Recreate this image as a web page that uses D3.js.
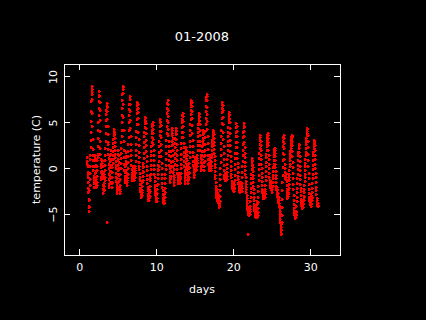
<!DOCTYPE html>
<html><head><meta charset="utf-8">
<script src="https://cdn.jsdelivr.net/npm/d3@7"></script>
<style>html,body{margin:0;padding:0;background:#000;}svg{display:block}</style>
</head><body>
<svg id="chart" width="426" height="320"></svg>
<script>
const title = "01-2008";
const xLabel = "days";
const yLabel = "temperature (C)";
const xTicks = [0, 10, 20, 30];
const xTickLabels = ["0", "10", "20", "30"];
const yTicks = [-5, 0, 5, 10];
const yTickLabels = ["\u22125", "0", "5", "10"];
const firstDay = 1;          // day value of the first sample
const samplesPerDay = 48;    // half-hourly readings
// temperature readings (C), one row of 12 = 6 hours, 4 rows per day, Jan 1 .. Jan 30
const temperature = [
 // Jan 1
 0.8, 0.5, 1.2, 0.3, -0.4, -1.0, -0.6, -1.5, -2.1, -2.6, -3.4, -4.1,
 -4.7, -4.2, -3.3, -2.4, -1.8, -1.2, -0.5, 0.2, 1.0, 1.4, 2.3, 3.1,
 4.0, 5.1, 6.2, 7.3, 8.1, 8.6, 9.0, 8.3, 7.5, 6.0, 4.6, 3.2,
 2.1, 1.5, 0.9, 0.3, -0.2, -0.8, -1.3, -1.0, -1.6, -2.0, -1.4, -0.9,
 // Jan 2
 -0.5, 0.2, 0.9, 1.5, 1.1, 0.4, -0.3, -0.9, -1.4, -2.0, -1.7, -1.2,
 -1.8, -1.5, -0.8, -0.2, 0.3, 0.9, 1.2, 1.6, 2.4, 3.3, 4.2, 5.0,
 5.8, 6.6, 7.3, 7.9, 8.4, 8.0, 7.2, 6.4, 5.3, 4.1, 3.0, 2.2,
 1.6, 1.0, 0.5, 0.1, -0.4, -0.9, -1.2, -0.7, -0.3, 0.4, 0.8, 0.6,
 // Jan 3
 0.9, 0.3, -0.4, -1.1, -1.8, -2.3, -2.7, -2.4, -1.9, -2.2, -1.6, -1.0,
 -0.6, -1.3, -0.9, -0.2, 0.4, 0.9, 1.5, 2.2, 3.0, 3.8, 4.6, 5.3,
 5.9, 6.4, 6.8, 7.1, 6.7, 6.2, -5.8, 5.4, 4.6, 3.7, 2.9, 2.6,
 2.1, 1.6, 1.1, 0.5, 0.0, -0.6, -1.2, -1.7, -2.0, -1.5, -0.8, -0.3,
 // Jan 4
 0.2, 0.8, 1.4, 2.0, 1.6, 1.0, 0.4, -0.3, -1.0, -1.6, -2.0, -1.5,
 -0.9, -0.4, 0.1, 0.6, 1.0, 1.5, 1.9, 2.3, 2.8, 3.2, 3.6, 3.9,
 4.1, 4.3, 4.0, 3.7, 3.3, 2.9, 2.4, 2.0, 1.6, 1.2, 0.8, 0.4,
 0.0, -0.5, -1.0, -1.4, -1.9, -2.3, -2.7, -2.4, -2.0, -1.6, -1.1, -0.6,
 // Jan 5
 -0.2, 0.4, 1.0, 1.6, 2.0, 1.4, 0.7, 0.0, -0.7, -1.4, -2.0, -2.5,
 -2.7, -2.3, -1.8, -1.2, -0.6, 0.0, 0.6, 1.1, 1.7, 2.2, 2.9, 3.5,
 4.2, 5.0, 5.8, 6.6, 7.4, 8.1, 8.6, 8.9, 9.0, 8.2, 7.0, 5.6,
 4.2, 3.0, 2.0, 1.2, 0.5, -0.2, -0.8, -1.2, -1.5, -1.0, -0.4, 0.3,
 // Jan 6
 0.8, 1.3, 1.8, 1.2, 0.5, -0.2, -0.8, -1.3, -1.8, -1.5, -1.0, -0.5,
 -1.1, -0.6, 0.0, 0.7, 1.3, 1.9, 2.6, 3.4, 4.2, 5.0, 5.8, 6.5,
 7.0, 7.5, 7.9, 7.6, 7.0, 6.2, 5.3, 4.4, 3.5, 2.7, 2.0, 1.4,
 0.9, 0.4, -0.1, -0.6, -1.0, -1.3, -0.9, -0.5, -0.1, 0.3, -0.2, -0.6,
 // Jan 7
 -0.9, -1.3, -0.8, -0.3, 0.3, -0.2, -0.7, -1.1, -1.3, -0.9, -0.4, 0.0,
 -0.5, -0.2, 0.3, 0.8, 1.4, 2.0, 2.7, 3.4, 4.1, 4.8, 5.4, 6.0,
 6.5, 6.9, 7.2, 7.0, 6.6, 6.1, 5.5, 4.8, 4.0, 3.2, 2.5, 1.8,
 1.2, 0.7, 0.3, -0.1, -0.5, -0.9, -1.3, -1.7, -2.1, -2.5, -2.8, -3.0,
 // Jan 8
 -2.8, -3.1, -2.7, -2.2, -2.6, -2.9, -2.4, -1.9, -1.5, -1.9, -1.3, -0.8,
 -0.3, 0.2, -0.4, 0.1, 0.6, 1.1, 1.7, 2.3, 2.9, 3.5, 4.0, 4.5,
 4.9, 5.2, 5.5, 5.6, 5.3, 4.9, 4.4, 3.8, 3.1, 2.5, 1.9, 1.3,
 0.8, 0.3, -0.2, -0.7, -1.2, -1.6, -2.0, -2.4, -2.8, -3.1, -3.4, -3.2,
 // Jan 9
 -3.0, -3.5, -3.2, -2.7, -2.2, -2.6, -3.0, -2.5, -1.9, -1.3, -0.7, -1.1,
 -0.6, -0.1, 0.4, 0.9, 1.4, 1.9, 2.4, 2.9, 3.4, 3.8, 4.2, 4.6,
 4.8, 5.0, 4.7, 4.3, 3.8, 3.2, 2.6, 2.0, 1.4, 0.9, 0.4, -0.1,
 -0.6, -1.0, -1.4, -1.8, -2.1, -2.5, -2.8, -3.1, -3.4, -3.6, -3.3, -2.9,
 // Jan 10
 -2.6, -3.1, -3.6, -3.2, -2.7, -2.2, -1.8, -2.3, -1.7, -1.1, -0.6, -0.1,
 0.4, -0.2, 0.3, 0.8, 1.3, 1.8, 2.4, 3.0, 3.6, 4.1, 4.6, 5.0,
 5.2, 5.4, 5.1, 4.7, 4.1, 3.4, 2.7, 2.0, 1.3, 0.6, 0.0, -0.6,
 -1.1, -1.6, -2.0, -2.4, -2.8, -3.2, -3.5, -3.7, -3.4, -3.0, -3.5, -3.8,
 // Jan 11
 -3.4, -3.7, -3.2, -2.8, -3.1, -2.6, -2.1, -1.6, -1.1, -0.6, -0.1, 0.4,
 1.0, 1.7, 2.4, 3.1, 3.9, 4.6, 5.3, 6.0, 6.6, 7.1, 7.4, 7.0,
 6.4, 5.7, 5.0, 4.3, 3.6, 3.0, 2.4, 1.9, 1.4, 0.9, 0.4, 0.0,
 -0.4, -0.8, -1.1, -1.5, -1.2, -0.8, -0.3, 0.2, 0.7, 1.3, 1.9, 2.5,
 // Jan 12
 3.0, 3.6, 4.2, 4.4, 3.9, 3.3, 2.6, 2.0, 1.4, 0.8, 0.2, -0.4,
 -1.0, -1.5, -1.8, -1.3, -0.7, -0.1, 0.5, 1.1, 1.7, 2.3, 2.8, 3.3,
 3.7, 4.1, 4.4, 4.2, 3.8, 3.2, 2.6, 2.0, 1.4, 0.9, 0.4, -0.1,
 -0.5, -0.9, -1.3, -1.6, -1.2, -0.8, -1.1, -1.5, -1.3, -0.9, -0.5, -1.0,
 // Jan 13
 -1.4, -1.6, -1.2, -0.8, -1.1, -1.5, -1.0, -0.5, 0.0, 0.5, 1.0, 1.6,
 2.2, 2.8, 3.4, 4.0, 4.5, 5.0, 5.4, 5.8, 6.0, 5.7, 5.2, 4.6,
 4.0, 3.4, 2.8, 2.3, 1.8, 1.3, 0.8, 0.3, -0.2, -0.7, -1.2, -1.6,
 -1.3, -0.9, -0.4, 0.1, 0.6, 1.1, 1.6, 2.0, 2.3, 1.9, 1.4, 0.9,
 // Jan 14
 0.4, -0.1, -0.6, -0.9, -1.3, -1.6, -1.2, -0.8, -0.4, 0.0, -0.5, -0.9,
 -0.4, 0.1, 0.6, 1.2, 1.8, 2.4, 3.0, 3.6, 4.2, 4.8, 5.4, 5.9,
 6.4, 6.8, 7.1, 7.4, 7.2, 6.8, 6.2, 5.5, 4.7, 3.9, 3.1, 2.4,
 1.8, 1.3, 0.8, 0.4, 0.0, -0.4, -0.7, -0.9, -0.6, -0.2, 0.2, 0.5,
 // Jan 15
 0.8, 1.2, 0.9, 0.5, 0.1, -0.2, 0.2, 0.6, 0.3, -0.1, 0.4, 0.9,
 0.6, 0.3, 0.7, 1.1, 1.5, 2.0, 2.5, 3.0, 3.5, 4.0, 4.4, 4.8,
 5.2, 5.6, 5.9, 6.0, 5.7, 5.3, 4.8, 4.2, 3.6, 3.0, 2.5, 2.0,
 1.5, 1.1, 0.7, 0.3, -0.1, -0.2, 0.2, 0.6, 1.0, 1.4, 1.9, 2.4,
 // Jan 16
 2.8, 3.3, 3.8, 4.2, 3.7, 3.1, 2.5, 1.9, 1.3, 0.7, 0.2, -0.2,
 0.3, 0.8, 1.4, 2.0, 2.7, 3.4, 4.1, 4.8, 5.5, 6.2, 6.8, 7.4,
 7.8, 8.1, 7.9, 7.4, 6.7, 5.9, 5.1, 4.3, 3.5, 2.8, 2.1, 1.5,
 1.0, 0.5, 0.1, -0.2, 0.2, 0.6, 1.0, 0.6, 0.2, -0.1, 0.3, 0.7,
 // Jan 17
 1.1, 1.5, 1.2, 0.8, 0.4, 0.0, -0.2, 0.3, 0.7, 1.2, 1.6, 2.0,
 2.4, 2.8, 3.1, 3.4, 3.7, 3.9, 4.1, 4.2, 4.0, 3.7, 3.3, 2.9,
 2.5, 2.1, 1.7, 1.3, 0.9, 0.5, 0.1, -0.3, -0.7, -1.1, -1.5, -1.9,
 -2.2, -2.5, -2.8, -3.1, -3.4, -3.0, -2.6, -2.2, -2.6, -3.0, -3.3, -3.6,
 // Jan 18
 -3.2, -2.8, -3.3, -3.7, -4.0, -4.2, -3.9, -3.5, -3.8, -4.1, -3.6, -3.0,
 -2.4, -1.8, -1.2, -0.6, 0.0, 0.7, 1.4, 2.1, 2.8, 3.5, 4.2, 4.9,
 5.5, 6.1, 6.6, 7.0, 7.2, 6.9, 6.3, 5.6, 4.8, 4.0, 3.2, 2.4,
 1.7, 1.0, 0.4, -0.2, -0.7, -1.1, -1.3, -0.9, -0.5, -0.8, -1.2, -0.9,
 // Jan 19
 -0.6, -1.0, -1.3, -0.9, -0.5, -0.8, -1.2, -0.8, -0.4, 0.0, 0.5, 1.0,
 1.5, 2.0, 2.5, 3.0, 3.5, 4.0, 4.5, 5.0, 5.4, 5.8, 6.1, 5.9,
 5.5, 5.0, 4.4, 3.8, 3.1, 2.5, 1.9, 1.3, 0.8, 0.3, -0.2, -0.6,
 -1.0, -1.4, -1.7, -2.0, -1.7, -1.4, -1.8, -2.1, -1.8, -1.5, -1.9, -2.2,
 // Jan 20
 -2.0, -2.4, -2.1, -1.7, -2.0, -2.5, -2.2, -1.8, -1.3, -0.7, -0.1, 0.5,
 1.1, 1.7, 2.3, 2.9, 3.5, 4.0, 4.5, 4.9, 4.6, 4.1, 3.5, 2.9,
 2.3, 1.7, 1.1, 0.6, 0.1, -0.4, -0.8, -1.2, -1.6, -2.0, -2.3, -2.5,
 -2.2, -1.8, -1.5, -1.9, -2.3, -2.6, -2.3, -1.9, -1.6, -2.0, -2.4, -2.1,
 // Jan 21
 -1.8, -1.5, -1.9, -2.3, -2.5, -2.1, -1.6, -1.0, -0.4, 0.2, 0.8, 1.4,
 2.0, 2.7, 3.4, 4.0, 4.5, 4.9, 4.6, 4.1, 3.5, 2.9, 2.3, 1.7,
 1.2, 0.7, 0.2, -0.2, -0.6, -1.0, -1.4, -1.7, -2.0, -2.3, -2.6, -2.9,
 -3.2, -3.5, -3.8, -4.1, -4.4, -4.6, -7.1, -4.8, -5.0, -4.7, -4.4, -4.8,
 // Jan 22
 -4.5, -4.2, -4.6, -4.9, -5.1, -4.8, -4.4, -4.7, -5.0, -4.6, -4.1, -3.6,
 -3.1, -2.6, -2.1, -1.6, -1.1, -0.6, -0.1, 0.4, 0.8, 1.1, 0.9, 0.5,
 0.1, -0.3, -0.7, -1.1, -1.5, -1.9, -2.3, -2.7, -3.1, -3.5, -3.9, -4.2,
 -4.5, -4.8, -5.0, -5.2, -4.9, -4.6, -4.9, -5.2, -5.3, -5.0, -4.7, -4.3,
 // Jan 23
 -4.0, -3.6, -3.9, -4.3, -4.7, -5.0, -5.3, -5.1, -4.8, -4.3, -3.7, -3.1,
 -2.5, -1.9, -1.3, -0.7, -0.1, 0.5, 1.1, 1.7, 2.2, 2.7, 3.1, 3.4,
 3.6, 3.4, 3.0, 2.5, 2.0, 1.5, 1.0, 0.5, 0.0, -0.5, -1.0, -1.4,
 -1.8, -2.2, -2.6, -2.9, -3.2, -2.9, -2.6, -3.0, -3.2, -2.8, -2.4, -2.7,
 // Jan 24
 -3.0, -3.2, -2.9, -2.5, -2.8, -3.1, -2.7, -2.3, -1.8, -1.3, -0.8, -0.3,
 0.2, 0.7, 1.2, 1.6, 2.0, 2.4, 2.8, 3.1, 3.4, 3.6, 3.8, 3.6,
 3.3, 2.9, 2.5, 2.0, 1.5, 1.0, 0.5, 0.0, -0.5, -0.9, -1.3, -1.7,
 -2.0, -1.7, -1.4, -1.8, -2.1, -1.8, -1.5, -1.9, -2.2, -1.9, -1.6, -2.0,
 // Jan 25
 -2.2, -1.9, -2.3, -2.6, -2.3, -1.9, -1.5, -1.1, -0.7, -0.3, 0.1, 0.5,
 0.9, 1.3, 1.6, 1.9, 2.1, 2.2, 2.0, 1.7, 1.3, 0.9, 0.5, 0.1,
 -0.3, -0.7, -1.1, -1.5, -1.9, -2.3, -2.7, -2.4, -2.0, -2.3, -2.7, -3.0,
 -3.3, -3.0, -2.7, -3.0, -3.4, -3.7, -3.4, -3.1, -3.5, -3.8, -4.1, -3.8,
 // Jan 26
 -4.0, -4.3, -4.6, -4.9, -5.2, -5.5, -5.8, -6.1, -6.4, -6.7, -7.0, -7.1,
 -6.6, -5.9, -5.1, -4.2, -3.3, -2.4, -1.5, -0.7, 0.1, 0.9, 1.7, 2.4,
 3.0, 3.4, 3.6, 3.3, 2.8, 2.2, 1.6, 1.0, 0.5, 0.0, -0.4, -0.8,
 -1.1, -0.8, -0.5, -0.9, -1.2, -0.9, -0.6, -1.0, -1.4, -1.8, -2.2, -2.6,
 // Jan 27
 -2.9, -3.2, -2.8, -2.4, -2.7, -3.0, -2.6, -2.2, -1.8, -2.1, -1.7, -1.3,
 -0.9, -0.6, -0.2, 0.2, 0.5, 0.9, 1.2, 1.6, 1.9, 2.2, 2.5, 2.8,
 3.0, 3.2, 3.4, 3.5, 3.6, 3.4, 3.0, 2.5, 1.9, 1.3, 0.7, 0.1,
 -0.5, -1.1, -1.7, -2.3, -2.9, -3.4, -3.9, -4.3, -4.7, -5.0, -5.3, -5.1,
 // Jan 28
 -5.2, -4.9, -5.2, -5.4, -5.1, -4.8, -5.0, -5.3, -5.0, -4.6, -4.1, -3.6,
 -3.1, -2.6, -2.1, -1.6, -1.1, -0.6, -0.1, 0.4, 0.9, 1.4, 1.8, 2.2,
 2.5, 2.7, 2.5, 2.2, 1.8, 1.3, 0.8, 0.3, -0.2, -0.7, -1.2, -1.7,
 -2.1, -2.5, -2.9, -3.3, -3.7, -4.0, -4.3, -4.1, -3.8, -4.1, -4.3, -4.0,
 // Jan 29
 -3.8, -3.5, -3.9, -4.2, -3.9, -3.5, -3.1, -3.4, -3.0, -2.6, -2.2, -1.8,
 -1.4, -1.0, -0.6, -0.2, 0.2, 0.6, 1.0, 1.4, 1.8, 2.2, 2.6, 3.0,
 3.3, 3.6, 3.9, 4.1, 4.3, 4.4, 4.1, 3.6, 3.0, 2.3, 1.6, 0.9,
 0.2, -0.5, -1.1, -1.7, -2.2, -2.7, -3.1, -3.5, -3.8, -3.5, -3.2, -3.6,
 // Jan 30
 -3.9, -3.6, -3.9, -4.1, -3.8, -3.5, -3.2, -2.9, -3.2, -3.5, -3.1, -2.6,
 -2.1, -1.6, -1.1, -0.6, -0.1, 0.4, 0.9, 1.4, 1.8, 2.2, 2.5, 2.8,
 3.0, 3.1, 2.9, 2.5, 2.0, 1.5, 1.0, 0.5, 0.0, -0.5, -1.0, -1.5,
 -2.0, -2.4, -2.8, -3.2, -3.5, -3.8, -4.0, -3.7, -3.4, -3.8, -4.1, -4.0
];

const svg = d3.select("#chart");
const font = "'DejaVu Sans', sans-serif";
const plot = {left: 64, right: 340, top: 64, bottom: 255};

svg.append("rect").attr("width", 426).attr("height", 320).attr("fill", "#000");

const x = d3.scaleLinear().domain([-1.99, 33.86]).range([plot.left, plot.right]);
const y = d3.scaleLinear().domain([-9.44, 11.36]).range([plot.bottom, plot.top]);

// points: small filled plus-like blocks
const pts = temperature.map((v, i) => ({t: firstDay + i / samplesPerDay, v}));
svg.append("g").attr("fill", "#ff0000").attr("shape-rendering", "crispEdges")
  .selectAll("path").data(pts).join("path")
  .attr("d", d => {
    const px = Math.round(x(d.t)), py = Math.round(y(d.v));
    return `M${px - 1},${py - 1}h2v3h-2z M${px + 1},${py}h1v1h-1z`;
  });

function styleAxis(g) {
  g.attr("color", "#fff").attr("font-family", font).attr("font-size", 11)
   .attr("shape-rendering", "crispEdges");
  g.select(".domain").remove();
}

svg.append("g").attr("transform", `translate(0,${plot.bottom})`)
  .call(d3.axisBottom(x).tickValues(xTicks).tickFormat((d, i) => xTickLabels[i])
        .tickSize(-6).tickSizeOuter(0).tickPadding(8))
  .call(styleAxis);

svg.append("g").attr("transform", `translate(0,${plot.top})`)
  .call(d3.axisTop(x).tickValues(xTicks).tickFormat(() => "")
        .tickSize(-6).tickSizeOuter(0))
  .call(styleAxis);

const gy = svg.append("g").attr("transform", `translate(${plot.left},0)`)
  .call(d3.axisLeft(y).tickValues(yTicks).tickFormat((d, i) => yTickLabels[i])
        .tickSize(-6).tickSizeOuter(0))
  .call(styleAxis);
gy.selectAll(".tick text")
  .attr("x", 0).attr("dy", null).attr("text-anchor", "middle")
  .attr("transform", "translate(-7.5,0) rotate(-90)");

svg.append("g").attr("transform", `translate(${plot.right},0)`)
  .call(d3.axisRight(y).tickValues(yTicks).tickFormat(() => "")
        .tickSize(-6).tickSizeOuter(0))
  .call(styleAxis);

// box
svg.append("rect")
  .attr("x", plot.left + 0.5).attr("y", plot.top + 0.5)
  .attr("width", plot.right - plot.left).attr("height", plot.bottom - plot.top)
  .attr("fill", "none").attr("stroke", "#fff").attr("stroke-width", 1)
  .attr("shape-rendering", "crispEdges");

// labels
svg.append("text").attr("x", 202).attr("y", 41).attr("text-anchor", "middle")
  .attr("fill", "#fff").attr("font-family", font).attr("font-size", 13).text(title);
svg.append("text").attr("x", 202).attr("y", 293).attr("text-anchor", "middle")
  .attr("fill", "#fff").attr("font-family", font).attr("font-size", 11).text(xLabel);
svg.append("text").attr("transform", `translate(39.5,${(plot.top + plot.bottom) / 2}) rotate(-90)`)
  .attr("text-anchor", "middle")
  .attr("fill", "#fff").attr("font-family", font).attr("font-size", 11).text(yLabel);
</script>
</body></html>
